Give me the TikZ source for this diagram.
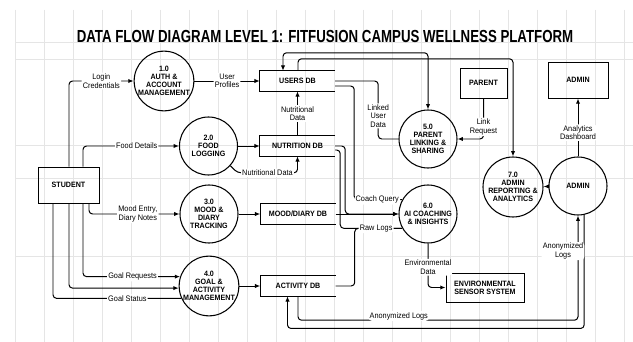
\documentclass[tikz,border=0pt]{standalone}
\usepackage{fontspec}
\setmainfont{Liberation Sans}[FakeStretch=0.92]
\newfontfamily\titlefont{Liberation Sans}[FakeStretch=0.76]
\usetikzlibrary{positioning,arrows.meta,calc}

\begin{document}
\begin{tikzpicture}[
  x=0.03cm, y=-0.03cm,
  >={Latex[length=4.5pt,width=3.6pt]},
  gridline/.style={draw=black!10, line width=0.4pt},
  procnode/.style={circle, draw=black, line width=0.9pt, minimum size=1.74cm, inner sep=0pt, align=center, font=\fontsize{6.6}{7}\selectfont\bfseries},
  extnode/.style={rectangle, draw=black, line width=0.75pt, inner sep=1pt, align=center, font=\fontsize{6.6}{7}\selectfont\bfseries},
  storenode/.style={rectangle, minimum width=2.25cm, minimum height=0.6cm, inner sep=0pt, font=\fontsize{6.6}{7}\selectfont\bfseries},
  dflow/.style={->, draw=black, line width=0.85pt, rounded corners=3pt},
  dlink/.style={draw=black, line width=0.85pt, rounded corners=3pt},
  flabel/.style={fill=white, inner sep=1pt, align=center, font=\fontsize{6.8}{7.2}\selectfont}
]
  \path[use as bounding box, fill=white] (0,0) rectangle (633,342);
  \foreach \gx in {15,44,...,624} \draw[gridline] (\gx,10) -- (\gx,342);
  \foreach \gy in {42,59,145,178,256} \draw[gridline] (15,\gy) -- (633,\gy);

  \node[font=\titlefont\fontsize{14.9}{16}\selectfont\bfseries] (title) at (325,36) {DATA FLOW DIAGRAM LEVEL 1: FITFUSION CAMPUS WELLNESS PLATFORM};

  \node[extnode, minimum width=1.83cm, minimum height=1.08cm] (student) at (68.5,185) {STUDENT};
  \node[procnode] (p1) at (164,81) {1.0\\AUTH \&\\ACCOUNT\\MANAGEMENT};
  \node[procnode] (p2) at (208.5,146) {2.0\\FOOD\\LOGGING};
  \node[procnode] (p3) at (209,214) {3.0\\MOOD \&\\DIARY\\TRACKING};
  \node[procnode] (p4) at (209,286) {4.0\\GOAL \&\\ACTIVITY\\MANAGEMENT};
  \node[storenode] (usersdb) at (297.5,81) {USERS DB};
  \node[storenode] (nutdb) at (297.5,146) {NUTRITION DB};
  \node[storenode] (mooddb) at (298,214) {MOOD/DIARY DB};
  \node[storenode] (actdb) at (298,286) {ACTIVITY DB};
  \node[procnode] (p5) at (428,139) {5.0\\PARENT\\LINKING \&\\SHARING};
  \node[procnode] (p6) at (428,214) {6.0\\AI COACHING\\\& INSIGHTS};
  \node[procnode, minimum size=1.8cm] (p7) at (513,187) {7.0\\ADMIN\\REPORTING \&\\ANALYTICS};
  \node[procnode] (adminp) at (578,186) {ADMIN};
  \node[extnode, minimum width=1.8cm, minimum height=1.08cm] (adminr) at (578,80) {ADMIN};
  \node[extnode, minimum width=1.41cm, minimum height=0.9cm] (parent) at (483.5,83) {PARENT};
  \node[extnode, minimum width=2.34cm, minimum height=0.87cm] (env) at (485,287.5) {ENVIRONMENTAL\\SENSOR SYSTEM};

  \foreach \s in {usersdb,nutdb,mooddb,actdb}
    \draw[line width=0.9pt] (\s.north east) -- (\s.north west) -- (\s.south west) -- (\s.south east);

  \draw[dflow] ($(student.north)+(0.5,0)$) |- node[flabel, pos=0.75] {Login\\Credentials} (p1);
  \draw[dflow] ($(student.north)+(14.5,0)$) |- node[flabel, pos=0.78] {Food Details} (p2);
  \draw[dflow] ($(student.south)+(20.5,0)$) |- node[flabel, pos=0.77] {Mood Entry,\\Diary Notes} (p3);
  \draw[dflow] ($(student.south)+(14.5,0)$) |- node[flabel, pos=0.755] {Goal Requests} (p4.162);
  \draw[dflow] ($(student.south)+(0.5,0)$) |- (p4.184);
  \draw[dlink] (p4.204) -| node[flabel, pos=0.21] {Goal Status} ($(student.south)+(-15.5,0)$);

  \draw[dflow] (p1) -- node[flabel] {User\\Profiles} (usersdb);
  \draw[dflow] (p2) -- (nutdb);
  \draw[dflow] (nutdb) -- node[flabel] {Nutritional\\Data} (usersdb);
  \draw[dflow] (p2.-42) -- ++(7,7) -| node[flabel, pos=0.25] {Nutritional Data} (nutdb);
  \draw[dflow] (p3) -- (mooddb);
  \draw[dflow] (p4) -- (actdb);

  \draw[<->, dlink] ($(usersdb.north)+(-14.5,0)$) -- ++(0,-18) -| (p5);
  \draw[dflow] ($(usersdb.north)+(0.5,0)$) -- ++(0,-12) -| (p7);
  \draw[dlink] (usersdb.east) -- ++(43,0) |- node[flabel, pos=0.3] {Linked\\User\\Data} (p5);
  \draw[dlink] ($(usersdb.east)+(0,5)$) -- ++(19,0) |- node[flabel, pos=0.74] {Coach Query} (p6.151);

  \draw[dflow] (nutdb.east) -- ++(10,0) |- (p6);
  \draw[dflow] (mooddb) -- (p6);
  \draw[dlink] (actdb.east) -- ++(19,0) |- (p6.209);
  \draw[dlink] ($(nutdb.east)+(0,4)$) -- ++(5,0) |- node[flabel, pos=0.79] {Raw Logs} (p6.209);

  \draw[dflow] (parent) |- node[flabel, pos=0.35] {Link\\Request} (p5);
  \draw[dflow] (adminp) -- (p7);
  \draw[dflow] (adminp) -- node[flabel, pos=0.41] {Analytics\\Dashboard} (adminr);
  \draw[dflow] (p6) |- node[flabel, pos=0.27] {Environmental\\Data} (env);

  \draw[dflow] (adminp.-78) -- ++(0,113.6) -| ($(actdb.south)+(-10.5,0)$);
  \draw[dflow] (actdb.south) -- ++(0,24) -| node[flabel, pos=0.18, above=-1pt] {Anonymized Logs} node[flabel, pos=0.83, xshift=-0.45cm] {Anonymized\\Logs} (adminp);
\end{tikzpicture}
\end{document}
